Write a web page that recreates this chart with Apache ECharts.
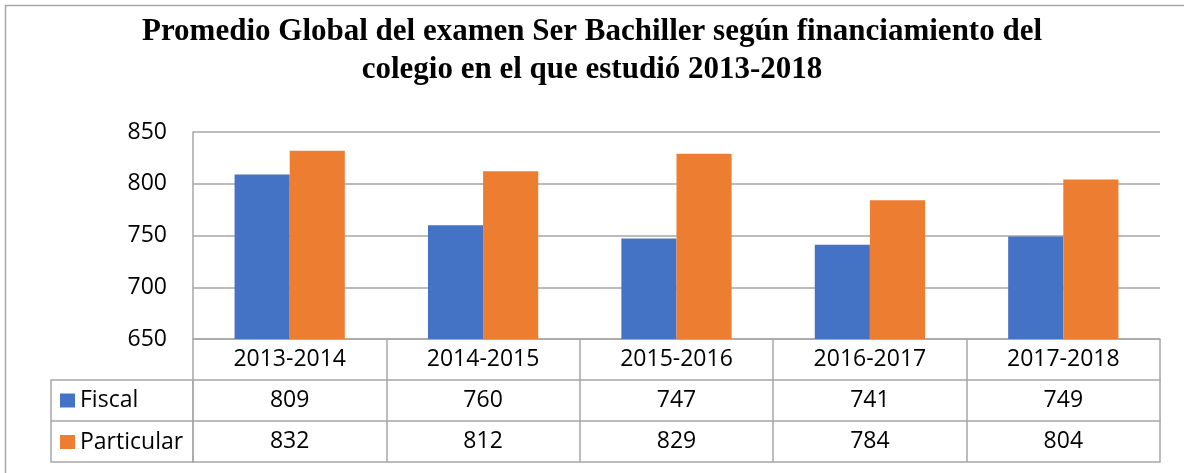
<!DOCTYPE html>
<html>
<head>
<meta charset="utf-8">
<script src="https://cdn.jsdelivr.net/npm/echarts@6/dist/echarts.min.js"></script>
<style>
  html, body { margin: 0; padding: 0; background: #fff; }
  #chart { width: 1184px; height: 473px; }
</style>
</head>
<body>
<div id="chart"></div>
<script>
// data
var periodos = ['2013-2014', '2014-2015', '2015-2016', '2016-2017', '2017-2018'];
var fiscal = [809, 760, 747, 741, 749];
var particular = [832, 812, 829, 784, 804];
var nombres = ['Fiscal', 'Particular'];
var yTicks = { min: 650, max: 850, step: 50 };

var gris = '#a6a6a6';
var fuente = 'Open Sans';
var tam = 23;

var chart = echarts.init(document.getElementById('chart'));

function filaEje(offset, valores) {
    return {
        type: 'category',
        data: periodos,
        position: 'bottom',
        offset: offset,
        boundaryGap: true,
        axisLine: { show: true, lineStyle: { color: gris, width: 1.5 } },
        axisTick: valores ? { show: true, inside: false, length: 41, alignWithLabel: false, lineStyle: { color: gris, width: 1.5 } } : { show: false },
        axisLabel: valores ? {
            show: true, interval: 0, margin: 9, color: '#000', fontFamily: fuente, fontSize: tam, lineHeight: 23,
            formatter: function (v, i) { return String(valores[i]); }
        } : { show: false },
        splitLine: { show: false }
    };
}

var option = {
    backgroundColor: '#fff',
    animation: false,
    title: {
        text: 'Promedio Global del examen Ser Bachiller según financiamiento del\ncolegio en el que estudió 2013-2018',
        left: 'center',
        top: 8,
        textStyle: { fontFamily: 'Liberation Serif', fontWeight: 'bold', fontSize: 31, lineHeight: 38, color: '#000' }
    },
    legend: [
        { data: [nombres[0]], left: 60, top: 389, padding: 0, icon: 'rect', itemWidth: 15, itemHeight: 14,
          textStyle: { fontFamily: fuente, fontSize: tam, lineHeight: 23, color: '#000' } },
        { data: [nombres[1]], left: 60, top: 430.5, padding: 0, icon: 'rect', itemWidth: 15, itemHeight: 14,
          textStyle: { fontFamily: fuente, fontSize: tam, lineHeight: 23, color: '#000' } }
    ],
    grid: { left: 193, right: 24, top: 132, bottom: 134, containLabel: false },
    xAxis: [
        {
            type: 'category',
            data: periodos,
            position: 'bottom',
            boundaryGap: true,
            axisLine: { show: true, lineStyle: { color: gris, width: 1.5 } },
            axisTick: { show: true, inside: false, length: 41, alignWithLabel: false, lineStyle: { color: gris, width: 1.5 } },
            axisLabel: { interval: 0, margin: 9, color: '#000', fontFamily: fuente, fontSize: tam, lineHeight: 23 },
            splitLine: { show: false }
        },
        filaEje(41, fiscal),
        filaEje(82, particular),
        filaEje(123, null)
    ],
    yAxis: {
        type: 'value',
        min: yTicks.min,
        max: yTicks.max,
        interval: yTicks.step,
        axisLine: { show: true, lineStyle: { color: gris, width: 1.5 } },
        axisTick: { show: false },
        axisLabel: { margin: 26, color: '#000', fontFamily: fuente, fontSize: tam },
        splitLine: { show: true, lineStyle: { color: gris, width: 1.5 } }
    },
    series: [
        { name: nombres[0], type: 'bar', data: fiscal, barGap: 0, barCategoryGap: '43%',
          itemStyle: { color: '#4472c4' } },
        { name: nombres[1], type: 'bar', data: particular, barGap: 0, barCategoryGap: '43%',
          itemStyle: { color: '#ed7d31' } }
    ],
    graphic: [
        // marco exterior
        { type: 'rect', shape: { x: 5.5, y: 5.5, width: 1300, height: 600 }, silent: true,
          style: { fill: 'none', stroke: gris, lineWidth: 1.5 } },
        // columna de la leyenda
        { type: 'rect', shape: { x: 51, y: 380, width: 142, height: 82 }, silent: true,
          style: { fill: 'none', stroke: gris, lineWidth: 1.5 } },
        { type: 'line', shape: { x1: 51, y1: 421, x2: 193, y2: 421 }, silent: true,
          style: { stroke: gris, lineWidth: 1.5 } }
    ]
};

chart.setOption(option);
</script>
</body>
</html>
